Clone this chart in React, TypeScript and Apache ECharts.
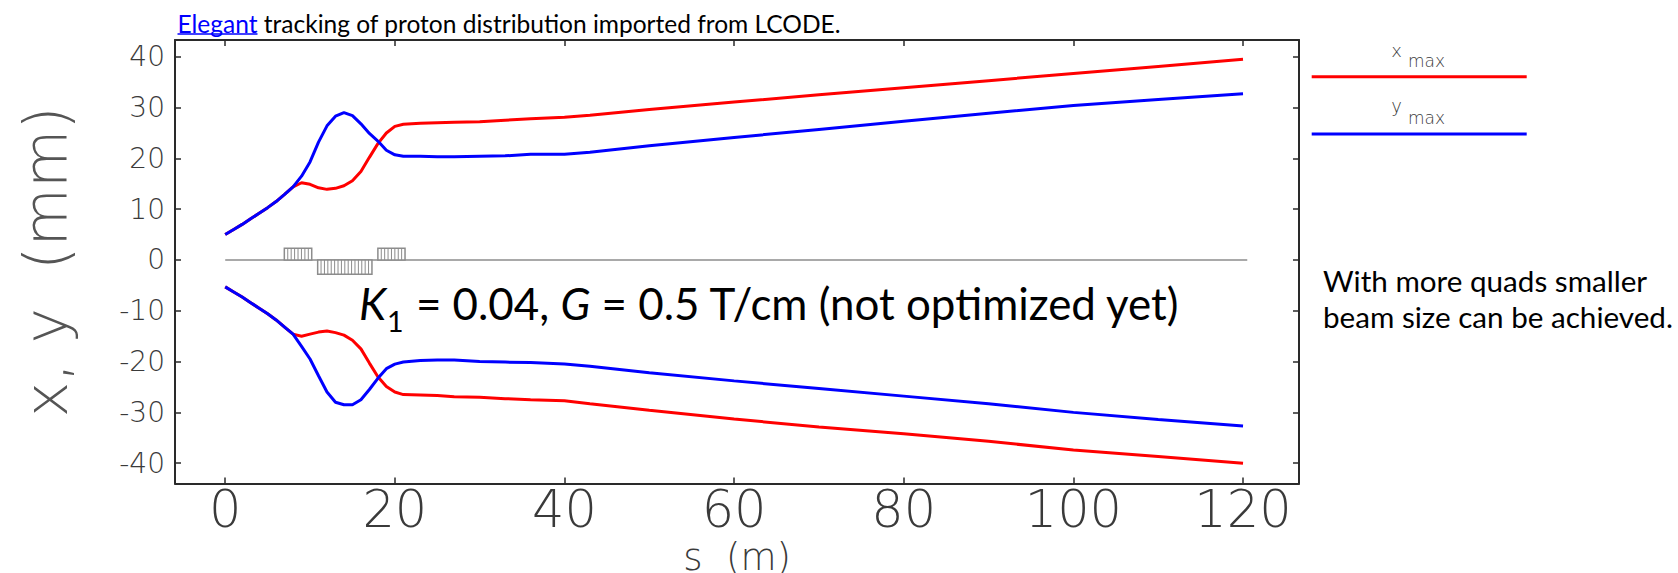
import React, { useEffect, useRef } from "react";
import * as echarts from "echarts";

// ---- data ----
const sPos = [0, 1, 2, 3, 4, 5, 6, 7, 8, 9, 10, 11, 12, 13, 14, 15, 16, 17, 18, 19, 20, 21, 23, 25, 27, 30, 33, 36, 40, 43, 50, 60, 70, 80, 90, 100, 110, 120];
const xMaxUpper = [5.0, 6.0, 7.0, 8.1, 9.2, 10.3, 11.5, 12.9, 14.4, 15.2, 14.9, 14.2, 13.9, 14.1, 14.6, 15.6, 17.4, 20.2, 22.9, 25.0, 26.3, 26.7, 26.9, 27.0, 27.1, 27.2, 27.5, 27.8, 28.1, 28.5, 29.6, 31.1, 32.5, 33.9, 35.3, 36.7, 38.1, 39.5];
const yMaxUpper = [5.0, 6.0, 7.0, 8.1, 9.2, 10.3, 11.5, 12.9, 14.4, 16.5, 19.3, 23.2, 26.4, 28.3, 29.0, 28.4, 26.8, 24.9, 23.4, 21.6, 20.7, 20.4, 20.4, 20.3, 20.3, 20.4, 20.5, 20.8, 20.8, 21.2, 22.5, 24.1, 25.7, 27.3, 28.9, 30.4, 31.6, 32.7];
const xMaxLower = [-5.3, -6.3, -7.3, -8.4, -9.5, -10.6, -11.8, -13.2, -14.6, -15.0, -14.6, -14.2, -14.0, -14.3, -14.8, -15.8, -17.5, -20.3, -23.0, -24.9, -26.0, -26.5, -26.6, -26.7, -26.9, -27.0, -27.3, -27.5, -27.7, -28.3, -29.6, -31.3, -32.9, -34.2, -35.7, -37.4, -38.7, -40.0];
const yMaxLower = [-5.3, -6.3, -7.3, -8.4, -9.5, -10.6, -11.8, -13.2, -14.6, -17.0, -19.5, -22.8, -26.0, -28.0, -28.5, -28.5, -27.5, -25.5, -23.3, -21.4, -20.5, -20.1, -19.8, -19.7, -19.7, -20.0, -20.1, -20.2, -20.5, -20.9, -22.2, -23.8, -25.3, -26.8, -28.3, -30.0, -31.4, -32.7];

// lattice (quadrupoles)
const latticeS = [0, 120.5];
const quadStart = [6.97, 10.9, 18.0];
const quadEnd = [10.2, 17.3, 21.2];
const quadHeight = [2.3, -2.8, 2.3];
const quadSlices = [8, 16, 8];

const xTicks = [0, 20, 40, 60, 80, 100, 120];
const yTicks = [-40, -30, -20, -10, 0, 10, 20, 30, 40];
const xRange = [-5.92, 126.6];
const yRange = [-44.0, 43.3];

const titleLink = "Elegant";
const titleRest = " tracking of proton distribution imported from LCODE.";
const noteLines = ["With more quads smaller", "beam size can be achieved."];

const RED = "#ff0000";
const BLUE = "#0000ff";
const GREY = "#8c8c8c";
const AXIS = "#2a2a2a";
const LABEL = "#3a3a3a";
const HFONT = "DejaVu Sans";

export default function App() {
  const ref = useRef<HTMLDivElement>(null);
  useEffect(() => {
    if (!ref.current) return;
    const chart = echarts.init(ref.current, undefined, { renderer: "svg" });

    const ctx = document.createElement("canvas").getContext("2d") as CanvasRenderingContext2D;
    const tw = (t: string, font: string) => {
      ctx.font = font;
      return ctx.measureText(t).width;
    };

    // title
    const titleSize = (100 * 382) / tw("Elegant tracking of proton distributi", "100px Lato");
    const tFont = `${titleSize.toFixed(2)}px Lato`;
    const linkW = tw(titleLink, tFont);
    const titleX = 177.5;
    const titleY = 23;

    // big annotation
    const bigBase = (f: number) => {
      const it = `italic ${f}px Lato`;
      const rg = `${f}px Lato`;
      const sb = `${(f * 0.65).toFixed(2)}px Lato`;
      return [
        { t: "K", font: it, w: tw("K", it), sub: false },
        { t: "1", font: sb, w: tw("1", sb), sub: true },
        { t: " = 0.04, ", font: rg, w: tw(" = 0.04, ", rg), sub: false },
        { t: "G", font: it, w: tw("G", it), sub: false },
        { t: " = 0.5 T/cm (not optimized yet)", font: rg, w: tw(" = 0.5 T/cm (not optimized yet)", rg), sub: false },
      ];
    };
    const w100 = bigBase(100).reduce((a, p) => a + p.w + (p.sub ? 2 : 0), 0);
    const bigSize = (100 * 821) / w100;
    const pieces = bigBase(bigSize);
    let bx = 359;
    const bigEls: any[] = [];
    pieces.forEach((p) => {
      const px = p.sub ? bx + 1 : bx;
      bigEls.push({
        type: "text",
        x: px,
        y: p.sub ? 321 : 303,
        style: { text: p.t, font: p.font, fill: "#000", align: "left", verticalAlign: "middle", textAlign: "left", textVerticalAlign: "middle" },
      });
      bx += p.w + (p.sub ? 2 : 0);
    });

    // right note
    const noteSize = (100 * 350) / tw(noteLines[1], "100px Lato");
    const nFont = `${noteSize.toFixed(2)}px Lato`;

    const txt = (text: string, x: number, y: number, font: string, fill: string, align = "left") => ({
      type: "text",
      x,
      y,
      style: { text, font, fill, align, verticalAlign: "middle", textAlign: align, textVerticalAlign: "middle" },
    });

    const graphic: any[] = [
      txt(titleLink, titleX, titleY, tFont, BLUE),
      { type: "line", shape: { x1: titleX, y1: 34, x2: titleX + linkW, y2: 34 }, style: { stroke: BLUE, lineWidth: 1.5 } },
      txt(titleRest, titleX + linkW, titleY, tFont, "#000"),
      ...bigEls,
      txt(noteLines[0], 1323, 280.5, nFont, "#000"),
      txt(noteLines[1], 1323, 316, nFont, "#000"),
      // legend
      txt("x", 1396.7, 50.4, `200 18px ${HFONT}`, LABEL, "center"),
      txt("max", 1408, 61.1, `200 17px ${HFONT}`, LABEL),
      { type: "line", shape: { x1: 1311.7, y1: 76.7, x2: 1526.7, y2: 76.7 }, style: { stroke: RED, lineWidth: 3 } },
      txt("y", 1396.7, 105.4, `200 18px ${HFONT}`, LABEL, "center"),
      txt("max", 1408, 117.8, `200 17px ${HFONT}`, LABEL),
      { type: "line", shape: { x1: 1311.7, y1: 134, x2: 1526.7, y2: 134 }, style: { stroke: BLUE, lineWidth: 3 } },
    ];

    const axisLine = { show: true, onZero: false, lineStyle: { color: AXIS, width: 2 } };
    const tickX = { show: true, inside: true, length: 6, customValues: xTicks, lineStyle: { color: AXIS, width: 1.5 } };
    const tickY = { show: true, inside: true, length: 6, customValues: yTicks, lineStyle: { color: AXIS, width: 1.5 } };

    const mkLine = (name: string, vals: number[], color: string, z: number) => ({
      type: "line",
      name,
      data: sPos.map((s, i) => [s, vals[i]]),
      showSymbol: false,
      symbol: "none",
      lineStyle: { color, width: 3 },
      itemStyle: { color },
      z,
      silent: true,
    });

    const option: any = {
      animation: false,
      grid: { left: 175, right: 379, top: 40, bottom: 89.5, containLabel: false, outerBoundsMode: "none" },
      xAxis: [
        {
          type: "value",
          position: "bottom",
          min: xRange[0],
          max: xRange[1],
          axisLine,
          axisTick: tickX,
          splitLine: { show: false },
          axisLabel: { customValues: xTicks, fontSize: 51, fontFamily: HFONT, fontWeight: 200, color: LABEL, margin: 0 },
          name: "s  (m)",
          nameLocation: "middle",
          nameGap: 46,
          nameTextStyle: { fontSize: 37, fontFamily: HFONT, fontWeight: 200, color: LABEL },
        },
        {
          type: "value",
          position: "top",
          min: xRange[0],
          max: xRange[1],
          axisLine,
          axisTick: tickX,
          splitLine: { show: false },
          axisLabel: { show: false },
        },
      ],
      yAxis: [
        {
          type: "value",
          position: "left",
          min: yRange[0],
          max: yRange[1],
          axisLine,
          axisTick: tickY,
          splitLine: { show: false },
          axisLabel: { customValues: yTicks, fontSize: 28, fontFamily: HFONT, fontWeight: 200, color: LABEL, margin: 10 },
          name: "x, y  (mm)",
          nameLocation: "middle",
          nameRotate: 90,
          nameGap: 99,
          nameTextStyle: { fontSize: 60, fontFamily: HFONT, fontWeight: 200, color: "#555" },
        },
        {
          type: "value",
          position: "right",
          min: yRange[0],
          max: yRange[1],
          axisLine,
          axisTick: tickY,
          splitLine: { show: false },
          axisLabel: { show: false },
        },
      ],
      series: [
        {
          type: "line",
          name: "lattice",
          data: latticeS.map((s) => [s, 0]),
          showSymbol: false,
          symbol: "none",
          lineStyle: { color: GREY, width: 1.5 },
          z: 1,
          silent: true,
        },
        {
          type: "custom",
          name: "quads",
          data: quadStart.map((s, i) => [s, quadEnd[i], quadHeight[i], quadSlices[i]]),
          encode: { x: [0, 1], y: 2 },
          z: 2,
          silent: true,
          renderItem: (params: any, api: any) => {
            const s0 = api.value(0);
            const s1 = api.value(1);
            const h = api.value(2);
            const n = api.value(3);
            const a = api.coord([s0, 0]);
            const b = api.coord([s1, h]);
            const x0 = a[0];
            const x1 = b[0];
            const yT = Math.min(a[1], b[1]);
            const yB = Math.max(a[1], b[1]);
            const children: any[] = [
              { type: "rect", shape: { x: x0, y: yT, width: x1 - x0, height: yB - yT }, style: { fill: "#fff", stroke: GREY, lineWidth: 1.5 } },
            ];
            for (let i = 1; i < n; i++) {
              const x = x0 + ((x1 - x0) * i) / n;
              children.push({ type: "line", shape: { x1: x, y1: yT, x2: x, y2: yB }, style: { stroke: GREY, lineWidth: 1 } });
            }
            return { type: "group", children };
          },
        },
        mkLine("x_max", xMaxUpper, RED, 3),
        mkLine("x_max (lower)", xMaxLower, RED, 3),
        mkLine("y_max", yMaxUpper, BLUE, 4),
        mkLine("y_max (lower)", yMaxLower, BLUE, 4),
      ],
      graphic,
    };
    chart.setOption(option);
    return () => chart.dispose();
  }, []);

  return (
    <div
      ref={ref}
      style={{ position: "absolute", left: 0, top: 0, width: 1678, height: 573, background: "#fff" }}
    />
  );
}
